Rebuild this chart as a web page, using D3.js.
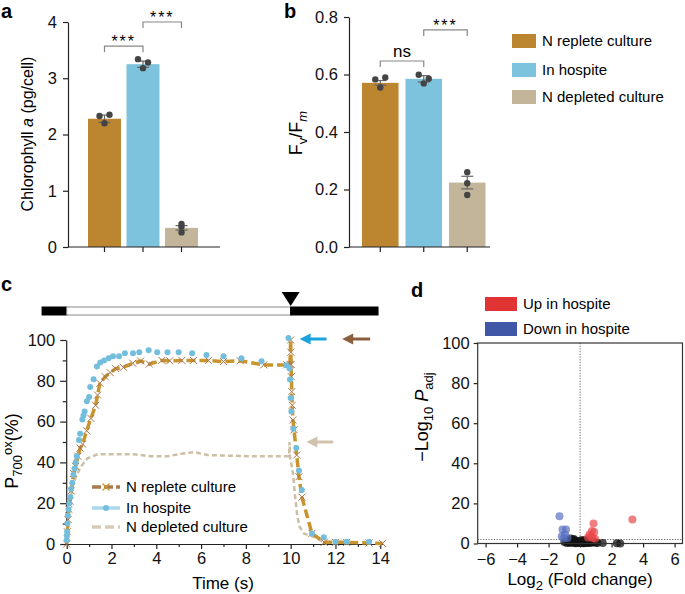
<!DOCTYPE html>
<html><head><meta charset="utf-8">
<script src="https://cdn.jsdelivr.net/npm/d3@7"></script>
<style>body{margin:0;background:#fff}svg{display:block;font-family:"Liberation Sans",Arial,Helvetica,sans-serif}</style>
</head><body><svg id="c" width="685" height="594"></svg>
<script>
// ---------- data ----------
const categories = ["N replete culture", "In hospite", "N depleted culture"];
const chlMean = [2.28, 3.25, 0.34];
const chlErr = [0.065, 0.055, 0.04];
const chlDots = [[2.33, 2.35, 2.20], [3.34, 3.28, 3.18], [0.36, 0.41, 0.26]];
const chlTicks = [0, 1, 2, 3, 4];
const fvMean = [0.571, 0.585, 0.224];
const fvErr = [0.008, 0.011, 0.022];
const fvDots = [[0.583, 0.590, 0.555], [0.599, 0.585, 0.569], [0.260, 0.222, 0.181]];
const fvTicks = [0, 0.2, 0.4, 0.6, 0.8];

const replete = [[0,0],[0.03,6],[0.06,12],[0.1,17],[0.15,21],[0.2,26],[0.31,34.6],[0.4,38],[0.5,43],[0.6,47],[0.71,49],[0.89,55.5],[1.08,61.6],[1.29,68],[1.38,73],[1.48,78.8],[1.72,82],[1.94,84],[2.19,86],[2.53,86.6],[2.95,88.6],[3.3,89.7],[3.69,88.2],[4.25,90],[4.6,89.8],[5.14,90],[5.66,90],[6.33,90],[7.0,89.4],[7.75,89.8],[8.8,87.8],[9.83,87.8],[9.97,88],[10.0,100],[10.01,94],[10.02,88],[10.03,82],[10.05,74.7],[10.07,68],[10.1,60.8],[10.15,56],[10.27,43.6],[10.37,33],[10.5,23],[10.95,5.2],[11.5,0.8],[12,0.8],[12.5,0.8],[13.5,0.5],[14.1,0.3]];
const hospite = [[0,2],[0.01,4],[0.02,6],[0.03,10],[0.05,14],[0.08,17],[0.12,20],[0.16,23],[0.2,27],[0.25,30],[0.3,34],[0.35,37],[0.4,40],[0.45,43],[0.55,51],[0.6,54],[0.7,61],[0.75,63],[0.8,65],[0.9,70],[1.0,72],[1.05,77],[1.2,80.7],[1.35,87],[1.5,89],[1.67,90],[1.87,91],[2.07,92],[2.34,92],[2.6,93.5],[2.96,93.5],[3.24,94],[3.66,95],[4.04,94],[4.5,94],[5.0,94],[5.6,93.5],[6.24,92.6],[7.0,92],[7.8,91],[8.7,89.6],[9.8,87.6],[9.9,101],[9.95,86],[9.97,80.6],[10.0,71.6],[10.03,65],[10.12,56.5],[10.25,47],[10.37,36],[10.5,26.5],[10.95,5.2],[11.48,3.3],[12,1.1],[12.5,1.1],[13.5,1.1]];
const depleted = [[0,0],[0.05,10],[0.12,20],[0.27,28],[0.41,33],[0.64,38],[0.93,42],[1.38,44],[1.97,44],[3,44],[3.75,43],[4.5,43],[5.2,44.4],[5.7,45],[6.3,43.6],[8.2,43],[9.9,43],[9.93,43],[9.95,50],[9.97,43],[10.05,38],[10.1,34.6],[10.2,23],[10.3,13.4],[10.4,8.5],[10.6,5],[11.0,3.6],[11.3,2],[11.6,0]];
const timeTicks = [0, 2, 4, 6, 8, 10, 12, 14];
const p700Ticks = [0, 20, 40, 60, 80, 100];
const phaseStart = [-1.1, 0, 10];
const phaseEnd = [0, 10, 13.9];
const phaseLight = [false, true, false];

const upPts = [[3.32,12],[0.85,10],[0.75,6.2],[0.9,5.7],[0.6,4.5],[0.95,2.4],[0.5,3],[0.7,3.5],[0.8,2.8]];
const downPts = [[-1.31,13.6],[-0.89,7],[-1.12,7],[-1.16,3.6],[-0.95,4.5],[-0.8,2.8],[-1.05,2.5]];
const nsPts = [[-1.0,0.8],[-0.9,1.5],[-0.85,0.3],[-0.8,1.2],[-0.75,0.6],[-0.7,1.8],[-0.65,0.2],[-0.6,0.8],[-0.58,2.5],[-0.55,1.4],[-0.5,0.5],[-0.45,1.9],[-0.4,1.0],[-0.35,0.3],[-0.3,1.5],[-0.28,0.1],[-0.25,0.7],[-0.2,1.2],[-0.15,0.4],[-0.1,0.9],[-0.05,0.2],[0,0.6],[0.05,1.1],[0.1,0.3],[0.15,0.8],[0.2,1.4],[0.22,0.1],[0.25,0.5],[0.3,1.0],[0.35,1.7],[0.4,0.4],[0.45,1.2],[0.5,0.2],[0.55,0.7],[0.6,1.5],[0.65,0.3],[0.75,1.0],[0.8,0.5],[0.9,0.8],[1.0,0.4],[1.1,0.2],[1.44,0.3],[2.33,0.1],[2.55,0.05],[-0.7,1.0],[-0.4,2.2],[0.1,1.8],[0.3,0.2]];
const fcTicks = [-6, -4, -2, 0, 2, 4, 6];
const padjTicks = [0, 20, 40, 60, 80, 100];

// ---------- styles ----------
const barColors = ["#BB862F", "#7EC3DD", "#C2B59A"];
const dotDx = [[-5, 5, 0], [-5, 5, 0], [0, 0, 0]];
const svg = d3.select("#c");
const TF = 16.5;

function panelLabel(t, x, y) {
  svg.append("text").attr("x", x).attr("y", y).attr("font-size", 20).attr("font-weight", "bold").text(t);
}
function styleAxis(g) {
  g.selectAll("path,line").attr("stroke", "#222").attr("stroke-width", 1.2);
  g.selectAll("text").attr("font-size", TF).attr("fill", "#111");
}

// ---------- bar panels ----------
function barPanel(opt) {
  const x = d3.scaleBand().domain(categories).range(opt.xr).paddingInner(opt.pad);
  const y = d3.scaleLinear().domain(opt.ydom).range([247, opt.ytop]);
  const g = svg.append("g");
  g.selectAll("rect.bar").data(opt.mean).join("rect")
    .attr("x", (d, i) => x(categories[i])).attr("width", x.bandwidth())
    .attr("y", d => y(d)).attr("height", d => y(0) - y(d)).attr("fill", (d, i) => barColors[i]);
  opt.mean.forEach((m, i) => {
    const cx = x(categories[i]) + x.bandwidth() / 2;
    g.append("line").attr("x1", cx).attr("x2", cx).attr("y1", y(m + opt.err[i])).attr("y2", y(m - opt.err[i])).attr("stroke", "#666").attr("stroke-width", 1.2);
    [m + opt.err[i], m - opt.err[i]].forEach(v => g.append("line").attr("x1", cx - 6).attr("x2", cx + 6).attr("y1", y(v)).attr("y2", y(v)).attr("stroke", "#666").attr("stroke-width", 1.2));
    opt.dots[i].forEach((v, j) => g.append("circle").attr("cx", cx + dotDx[i][j]).attr("cy", y(v)).attr("r", 3.2).attr("fill", "#444"));
  });
  const ya = g.append("g").attr("transform", `translate(${opt.ax},0)`)
    .call(d3.axisLeft(y).tickValues(opt.ticks).tickSize(5).tickPadding(6).tickFormat(opt.fmt).tickSizeOuter(0));
  styleAxis(ya);
  g.append("line").attr("x1", opt.ax).attr("x2", opt.xend).attr("y1", y(0)).attr("y2", y(0)).attr("stroke", "#222").attr("stroke-width", 1.2);
  categories.forEach(c => {
    const cx = x(c) + x.bandwidth() / 2;
    g.append("line").attr("x1", cx).attr("x2", cx).attr("y1", y(0)).attr("y2", y(0) + 5).attr("stroke", "#222").attr("stroke-width", 1.2);
  });
  opt.brackets.forEach(b => {
    const x1 = x(categories[b.a]) + x.bandwidth() / 2, x2 = x(categories[b.b]) + x.bandwidth() / 2, yy = y(b.v);
    g.append("path").attr("d", `M${x1},${yy + 6}V${yy}H${x2}V${yy + 6}`).attr("fill", "none").attr("stroke", "#888").attr("stroke-width", 1.2);
    if (b.t === "ns") g.append("text").attr("x", (x1 + x2) / 2).attr("y", yy - 4).attr("text-anchor", "middle").attr("font-size", 17).text("ns");
    else g.append("text").attr("x", (x1 + x2) / 2).attr("y", yy + 1).attr("text-anchor", "middle").attr("font-size", 16).attr("letter-spacing", 2).text("***");
  });
  return { x, y };
}

panelLabel("a", 1, 18);
barPanel({ xr: [88, 198], pad: 0.143, ydom: [0, 4], ytop: 22, mean: chlMean, err: chlErr, dots: chlDots, ax: 68, xend: 220,
  ticks: chlTicks, fmt: d3.format("d"), brackets: [{ a: 0, b: 1, v: 3.57, t: "***" }, { a: 1, b: 2, v: 4.0, t: "***" }] });
const la = svg.append("text").attr("transform", "translate(33,134) rotate(-90)").attr("text-anchor", "middle").attr("font-size", 16);
la.append("tspan").text("Chlorophyll ");
la.append("tspan").attr("font-style", "italic").text("a");
la.append("tspan").text(" (pg/cell)");

panelLabel("b", 284, 18);
barPanel({ xr: [362, 485.5], pad: 0.16, ydom: [0, 0.8], ytop: 17, mean: fvMean, err: fvErr, dots: fvDots, ax: 349, xend: 490,
  ticks: fvTicks, fmt: d3.format(".1f"), brackets: [{ a: 0, b: 1, v: 0.647, t: "ns" }, { a: 1, b: 2, v: 0.755, t: "***" }] });
const lb = svg.append("text").attr("transform", "translate(302,133) rotate(-90)").attr("text-anchor", "middle").attr("font-size", 18);
lb.append("tspan").text("F");
lb.append("tspan").attr("font-size", 13).attr("dy", 5).text("v");
lb.append("tspan").attr("dy", -5).text("/F");
lb.append("tspan").attr("font-size", 13).attr("font-style", "italic").attr("dy", 5).text("m");

categories.forEach((c, i) => {
  const yy = [34, 63, 90][i];
  svg.append("rect").attr("x", 512).attr("y", yy).attr("width", 24).attr("height", 14).attr("fill", barColors[i]);
  svg.append("text").attr("x", 542).attr("y", yy + 12).attr("font-size", 15).text(c);
});

// ---------- panel c ----------
panelLabel("c", 1, 291);
const xc = d3.scaleLinear().domain([0, 14.1]).range([66.7, 382.5]);
const yc = d3.scaleLinear().domain([0, 100]).range([544, 340]);
const gc = svg.append("g");
phaseStart.forEach((s, i) => {
  gc.append("rect").attr("x", xc(s)).attr("y", 307).attr("width", xc(phaseEnd[i]) - xc(s)).attr("height", 8)
    .attr("fill", phaseLight[i] ? "#fff" : "#000").attr("stroke", phaseLight[i] ? "#888" : "#000").attr("stroke-width", 1);
});
gc.append("path").attr("d", `M${xc(10) - 9},292L${xc(10) + 9},292L${xc(10)},306Z`).attr("fill", "#000");

const xaxC = gc.append("g").attr("transform", `translate(0,${yc(0)})`)
  .call(d3.axisBottom(xc).tickValues(timeTicks).tickSize(5).tickPadding(3).tickSizeOuter(0));
styleAxis(xaxC);
gc.append("g").attr("transform", `translate(0,${yc(0)})`).call(d3.axisBottom(xc).tickValues(d3.range(1, 14, 2)).tickSize(3).tickFormat("")).call(g => { g.select(".domain").remove(); styleAxis(g); });
const yaxC = gc.append("g").attr("transform", `translate(${xc(0) - 0.5},0)`)
  .call(d3.axisLeft(yc).tickValues(p700Ticks).tickSize(6).tickPadding(5).tickSizeOuter(0));
styleAxis(yaxC);
gc.append("g").attr("transform", `translate(${xc(0) - 0.5},0)`).call(d3.axisLeft(yc).tickValues(d3.range(10, 100, 20)).tickSize(3.5).tickFormat("")).call(g => { g.select(".domain").remove(); styleAxis(g); });

const lineC = d3.line().x(d => xc(d[0])).y(d => yc(d[1]));
gc.append("path").datum(depleted).attr("d", lineC).attr("fill", "none").attr("stroke", "#CDBFA5").attr("stroke-width", 2.5).attr("stroke-dasharray", "5,3");
gc.append("path").datum(replete).attr("d", lineC).attr("fill", "none").attr("stroke", "#C8942E").attr("stroke-width", 3.5).attr("stroke-dasharray", "9,4");
gc.selectAll("path.xm").data(replete).join("path").attr("class", "xm")
  .attr("d", d => `M${xc(d[0]) - 3.5},${yc(d[1]) - 3.5}L${xc(d[0]) + 3.5},${yc(d[1]) + 3.5}M${xc(d[0]) - 3.5},${yc(d[1]) + 3.5}L${xc(d[0]) + 3.5},${yc(d[1]) - 3.5}`)
  .attr("stroke", "#A8744A").attr("stroke-width", 1);
gc.selectAll("circle.hd").data(hospite).join("circle").attr("class", "hd")
  .attr("cx", d => xc(d[0])).attr("cy", d => yc(d[1])).attr("r", 3).attr("fill", "#74BEDD");

function arrow(x1, x2, y, color) {
  gc.append("line").attr("x1", x1).attr("x2", x2 + 9).attr("y1", y).attr("y2", y).attr("stroke", color).attr("stroke-width", 3);
  gc.append("path").attr("d", `M${x2},${y}L${x2 + 11},${y - 5.5}L${x2 + 11},${y + 5.5}Z`).attr("fill", color);
}
arrow(xc(11.6), xc(10.4), yc(100) - 1, "#1AA3DC");
arrow(xc(13.55), xc(12.3), yc(100) - 1, "#8B5E3C");
arrow(xc(11.9), xc(10.7), yc(50), "#CFC3AE");

const lc = [487, 508, 527];
gc.append("line").attr("x1", 92).attr("x2", 120).attr("y1", lc[0]).attr("y2", lc[0]).attr("stroke", "#A87A4C").attr("stroke-width", 3.5).attr("stroke-dasharray", "9,3");
gc.append("path").attr("d", `M102.5,${lc[0] - 3.5}L109.5,${lc[0] + 3.5}M102.5,${lc[0] + 3.5}L109.5,${lc[0] - 3.5}`).attr("stroke", "#C8942E").attr("stroke-width", 1.2);
gc.append("line").attr("x1", 92).attr("x2", 120).attr("y1", lc[1]).attr("y2", lc[1]).attr("stroke", "#A9D8EC").attr("stroke-width", 3.5);
gc.append("circle").attr("cx", 106).attr("cy", lc[1]).attr("r", 3).attr("fill", "#74BEDD");
gc.append("line").attr("x1", 92).attr("x2", 120).attr("y1", lc[2]).attr("y2", lc[2]).attr("stroke", "#D6CBB6").attr("stroke-width", 3.5).attr("stroke-dasharray", "9,4");
categories.forEach((c, i) => gc.append("text").attr("x", 126).attr("y", lc[i] + 5).attr("font-size", 15).text(c));

const lcY = svg.append("text").attr("transform", "translate(18,451) rotate(-90)").attr("text-anchor", "middle").attr("font-size", 18);
lcY.append("tspan").text("P");
lcY.append("tspan").attr("font-size", 13).attr("dy", 4).text("700");
lcY.append("tspan").attr("font-size", 13).attr("dy", -10).text("ox");
lcY.append("tspan").attr("dy", 6).text("(%)");
svg.append("text").attr("x", 223).attr("y", 589).attr("text-anchor", "middle").attr("font-size", 17).text("Time (s)");

// ---------- panel d ----------
panelLabel("d", 411, 297);
const xd = d3.scaleLinear().domain([-6.5, 6.5]).range([477.7, 682.5]);
const yd = d3.scaleLinear().domain([0, 100]).range([543.5, 343]);
const gd = svg.append("g");
gd.append("line").attr("x1", xd(0)).attr("x2", xd(0)).attr("y1", yd(100)).attr("y2", yd(0)).attr("stroke", "#666").attr("stroke-dasharray", "1.2,1.5").attr("stroke-width", 1);
gd.append("line").attr("x1", xd(-6.5)).attr("x2", xd(6.5)).attr("y1", yd(2)).attr("y2", yd(2)).attr("stroke", "#666").attr("stroke-dasharray", "1.2,1.5").attr("stroke-width", 1);
gd.selectAll("circle.ns").data(nsPts).join("circle").attr("cx", d => xd(d[0])).attr("cy", d => yd(d[1])).attr("r", 4).attr("fill", "#111").attr("fill-opacity", 0.75);
gd.selectAll("circle.up").data(upPts).join("circle").attr("cx", d => xd(d[0])).attr("cy", d => yd(d[1])).attr("r", 4).attr("fill", "#E8494B").attr("fill-opacity", 0.7);
gd.selectAll("circle.dn").data(downPts).join("circle").attr("cx", d => xd(d[0])).attr("cy", d => yd(d[1])).attr("r", 4).attr("fill", "#5A70C0").attr("fill-opacity", 0.7);
gd.append("rect").attr("x", xd(-6.5)).attr("y", yd(100)).attr("width", xd(6.5) - xd(-6.5)).attr("height", yd(0) - yd(100)).attr("fill", "none").attr("stroke", "#333").attr("stroke-width", 1.2);
const xaxD = gd.append("g").attr("transform", `translate(0,${yd(0)})`).call(d3.axisBottom(xd).tickValues(fcTicks).tickSize(4).tickPadding(6).tickSizeOuter(0).tickFormat(d => d < 0 ? "\u2212" + Math.abs(d) : d));
styleAxis(xaxD); xaxD.select(".domain").remove();
const yaxD = gd.append("g").attr("transform", `translate(${xd(-6.5)},0)`).call(d3.axisLeft(yd).tickValues(padjTicks).tickSize(4).tickPadding(4).tickSizeOuter(0));
styleAxis(yaxD); yaxD.select(".domain").remove();
[["Up in hospite", "#E03434", 297], ["Down in hospite", "#4057A8", 322]].forEach(r => {
  gd.append("rect").attr("x", 485).attr("y", r[2]).attr("width", 32).attr("height", 14).attr("fill", r[1]);
  gd.append("text").attr("x", 523).attr("y", r[2] + 12).attr("font-size", 15).text(r[0]);
});
const ldY = svg.append("text").attr("transform", "translate(428,417) rotate(-90)").attr("text-anchor", "middle").attr("font-size", 18);
ldY.append("tspan").text("\u2212Log");
ldY.append("tspan").attr("font-size", 13).attr("dy", 5).text("10");
ldY.append("tspan").attr("dy", -5).attr("font-style", "italic").text(" P");
ldY.append("tspan").attr("font-size", 13).attr("dy", 5).text("adj");
const ldX = svg.append("text").attr("x", 580).attr("y", 585).attr("text-anchor", "middle").attr("font-size", 17);
ldX.append("tspan").text("Log");
ldX.append("tspan").attr("font-size", 13).attr("dy", 5).text("2");
ldX.append("tspan").attr("dy", -5).text(" (Fold change)");
</script></body></html>
